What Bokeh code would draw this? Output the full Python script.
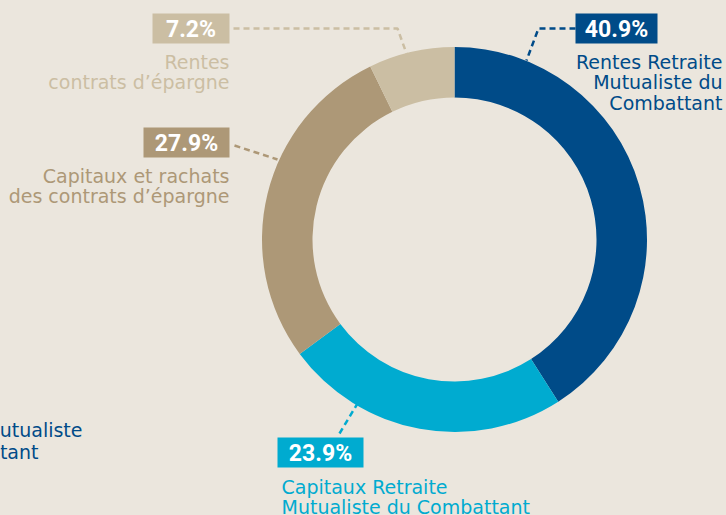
import math
from bokeh.plotting import figure
from bokeh.models import Range1d, ColumnDataSource
from bokeh.core.properties import value
from bokeh.embed import file_html
from bokeh.resources import INLINE

# ---- data ----
categories = ["Rentes Retraite Mutualiste du Combattant",
              "Capitaux Retraite Mutualiste du Combattant",
              "Capitaux et rachats des contrats d'épargne",
              "Rentes contrats d'épargne"]
shares = [40.9, 23.9, 27.9, 7.2]
pct_labels = ["40.9%", "23.9%", "27.9%", "7.2%"]
name_lines = [["Rentes Retraite", "Mutualiste du", "Combattant"],
              ["Capitaux Retraite", "Mutualiste du Combattant"],
              ["Capitaux et rachats", "des contrats d\u2019épargne"],
              ["Rentes", "contrats d\u2019épargne"]]
colors = ["#004b88", "#00abd0", "#ad9877", "#cbbea3"]
text_colors = ["#004b88", "#00abd0", "#ad9877", "#cbbea3"]

W, H = 726, 515
BG = "#ebe6dd"
FONT = "DejaVu Sans"
PFONT = "Roboto"

def Y(y):  # convert from top-based pixel to data y
    return H - y

p = figure(width=W, height=H, output_backend="svg", toolbar_location=None,
           x_range=Range1d(0, W), y_range=Range1d(0, H), min_border=0)
p.axis.visible = False
p.grid.visible = False
p.outline_line_color = None
p.background_fill_color = BG
p.border_fill_color = BG

# ---- donut ----
cx, cy = 454, Y(239)
total = sum(shares)
starts, ends = [], []
acc = 0.0
for s in shares:
    starts.append(math.pi / 2 - 2 * math.pi * acc / total)
    acc += s
    ends.append(math.pi / 2 - 2 * math.pi * acc / total)
src = ColumnDataSource(dict(start=starts, end=ends, color=colors, name=categories))
p.annular_wedge(x=cx, y=cy, inner_radius=142, outer_radius=192.5,
                start_angle="start", end_angle="end", direction="clock",
                fill_color="color", line_color=None, source=src)

# ---- label layout (box left, right, top, bottom in top-based px) ----
boxes = [(575, 657, 13, 43), (277, 363, 437, 467), (143, 229, 127, 157), (152, 229, 13, 43)]
leaders = [([575, 538, 526], [28, 28, 60]),
           ([339, 357], [433, 403]),
           ([234, 277], [145, 159]),
           ([233, 397, 406], [28, 28, 53])]
name_pos = [(722, 67, "right"), (281, 492, "left"), (229, 181, "right"), (229, 67, "right")]
line_gap = 20.5
shift = 6  # compensation for rendered baseline

for i in range(len(shares)):
    l, r, t, b = boxes[i]
    p.quad(left=l, right=r, top=Y(t), bottom=Y(b), fill_color=colors[i], line_color=None)
    p.text(x=[(l + r) / 2], y=[Y((t + b) / 2) - 1], text=[pct_labels[i]],
           text_color="white", text_font=value(PFONT), text_font_style="bold",
           text_font_size="23px", text_align="center", text_baseline="middle")
    xs, ys = leaders[i]
    p.line(x=xs, y=[Y(v) for v in ys], line_color=colors[i], line_width=2.5,
           line_dash="6 4")
    nx, ny, al = name_pos[i]
    lines = name_lines[i]
    p.text(x=[nx] * len(lines), y=[Y(ny - shift + k * line_gap) for k in range(len(lines))],
           text=lines, text_color=text_colors[i], text_font=value(FONT),
           text_font_size="19px", text_align=al, text_baseline="alphabetic")

# cropped neighbouring label at the left edge
p.text(x=[82, 38], y=[Y(435 - shift), Y(457 - shift)], text=["Mutualiste", "Combattant"],
       text_color=colors[0], text_font=value(FONT), text_font_size="19px",
       text_align="right", text_baseline="alphabetic")

html = file_html(p, INLINE)
html = html.replace("</head>",
                    "<style>html,body{margin:0;padding:0;background:%s;overflow:hidden}</style></head>" % BG, 1)
open("out.html", "w").write(html)
